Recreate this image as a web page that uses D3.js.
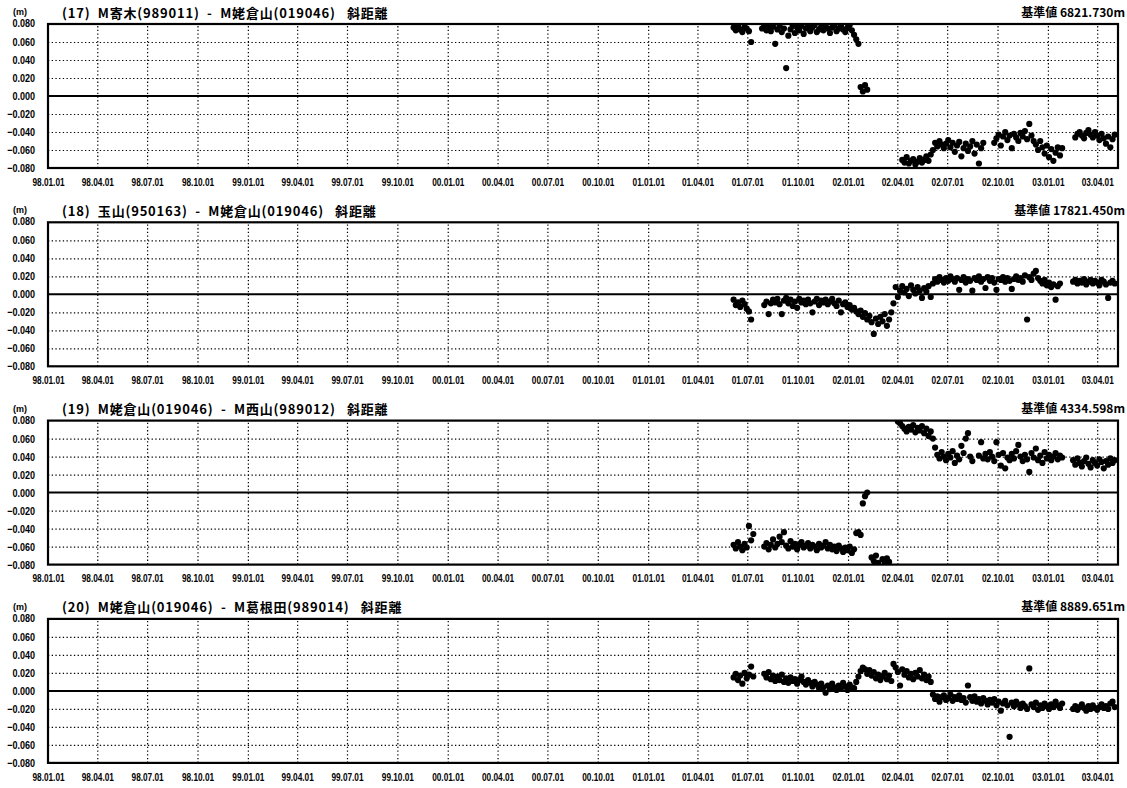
<!DOCTYPE html>
<html>
<head>
<meta charset="utf-8">
<script src="https://cdn.jsdelivr.net/npm/d3@7"></script>
<style>
  body { margin: 0; background: #fff; }
  svg { display: block; }
  .num text { font-family: "Liberation Sans", Arial, sans-serif; font-weight: bold; font-size: 11px; fill: #000; }
  .title { font-family: "Noto Sans CJK JP", sans-serif; font-weight: bold; font-size: 13px; letter-spacing: 0.8px; fill: #000; white-space: pre; }
  .base { font-family: "Noto Sans CJK JP", sans-serif; font-weight: bold; font-size: 12px; fill: #000; }
  .unit { font-family: "Liberation Sans", Arial, sans-serif; font-weight: bold; font-size: 9px; fill: #000; }
</style>
</head>
<body>
<svg id="chart" width="1127" height="788"></svg>
<script>
// ---- axis labels ----
const xTickLabels = ["98.01.01","98.04.01","98.07.01","98.10.01","99.01.01","99.04.01","99.07.01","99.10.01",
  "00.01.01","00.04.01","00.07.01","00.10.01","01.01.01","01.04.01","01.07.01","01.10.01",
  "02.01.01","02.04.01","02.07.01","02.10.01","03.01.01","03.04.01"];
const yTicks = [0.08, 0.06, 0.04, 0.02, 0, -0.02, -0.04, -0.06, -0.08];

// ---- panel headings ----
const panelTitles = [
  "(17)  M寄木(989011)  -  M姥倉山(019046)   斜距離",
  "(18)  玉山(950163)  -  M姥倉山(019046)   斜距離",
  "(19)  M姥倉山(019046)  -  M西山(989012)   斜距離",
  "(20)  M姥倉山(019046)  -  M葛根田(989014)   斜距離"
];
const baseLengths = ["基準値 6821.730m", "基準値 17821.450m", "基準値 4334.598m", "基準値 8889.651m"];

// ---- observations: one value every obsStepDays from obsStart (null = no data) ----
const obsStart = "2001-06-06";
const obsStepDays = 4;

const series17 = [
  0.076,0.073,0.078,0.074,0.071,0.077,0.075,0.072,0.060,null,
  null,null,null,0.075,0.078,0.073,0.076,0.072,0.077,0.058,
  0.074,0.078,0.071,0.075,0.031,0.067,0.074,0.078,0.070,0.076,
  0.073,0.078,0.069,0.075,0.077,0.072,0.076,0.079,0.071,0.074,
  0.077,0.073,0.078,0.075,0.070,0.076,0.079,0.072,0.075,0.078,
  0.074,0.071,0.076,0.079,0.073,0.068,0.063,0.058,0.010,0.005,
  0.012,0.007,null,null,null,null,null,null,null,null,
  null,null,null,null,null,null,null,-0.071,-0.074,-0.068,
  -0.075,-0.072,-0.070,-0.076,-0.073,-0.069,-0.074,-0.071,-0.067,-0.072,
  -0.065,-0.060,-0.052,-0.056,-0.050,-0.054,-0.058,-0.053,-0.049,-0.057,
  -0.052,-0.062,-0.055,-0.051,-0.067,-0.058,-0.053,-0.061,-0.056,-0.050,
  -0.064,-0.054,-0.075,-0.058,-0.052,null,null,null,null,-0.052,
  -0.047,-0.043,-0.055,-0.045,-0.040,-0.049,-0.044,-0.058,-0.042,-0.046,
  -0.050,-0.041,-0.045,-0.039,-0.048,-0.031,-0.044,-0.050,-0.054,-0.060,
  -0.050,-0.057,-0.064,-0.055,-0.068,-0.059,-0.072,-0.063,-0.057,-0.066,
  -0.058,null,null,null,null,null,-0.046,-0.042,-0.040,-0.044,
  -0.047,-0.041,-0.038,-0.043,-0.046,-0.040,-0.044,-0.049,-0.042,-0.047,
  -0.053,-0.045,-0.057,-0.048,-0.043
];

const series18 = [
  -0.006,-0.012,-0.009,-0.014,-0.007,-0.011,-0.016,-0.019,-0.028,null,
  null,null,null,null,-0.012,-0.008,-0.022,-0.010,-0.006,-0.009,
  -0.005,-0.011,-0.022,-0.007,-0.004,-0.010,-0.006,-0.013,-0.008,-0.015,
  -0.005,-0.009,-0.007,-0.011,-0.006,-0.010,-0.020,-0.008,-0.005,-0.012,
  -0.007,-0.009,-0.006,-0.011,-0.008,-0.005,-0.010,-0.013,-0.007,-0.020,
  -0.011,-0.009,-0.014,-0.012,-0.017,-0.015,-0.019,-0.022,-0.018,-0.025,
  -0.021,-0.028,-0.024,-0.031,-0.044,-0.027,-0.033,-0.025,-0.030,-0.022,
  -0.035,-0.028,-0.020,-0.010,0.008,-0.003,0.004,0.009,0.002,0.006,
  -0.002,0.010,0.005,0.001,0.008,0.004,-0.004,0.007,0.003,0.009,
  -0.003,0.012,0.017,0.014,0.019,0.016,0.013,0.018,0.015,0.020,
  0.017,0.014,0.018,0.005,0.016,0.019,0.013,0.017,0.015,0.004,
  0.018,0.016,0.020,0.014,0.017,0.007,0.019,0.015,0.018,0.013,
  0.005,0.017,0.016,0.019,0.014,0.018,0.015,0.006,0.017,0.020,
  0.016,0.018,0.014,0.021,-0.028,0.019,0.016,0.023,0.026,0.018,
  0.015,0.012,0.016,0.010,0.013,0.008,0.011,-0.006,0.009,0.012,
  null,null,null,null,null,0.014,0.016,0.012,0.015,0.013,
  0.017,0.011,0.014,0.016,0.012,0.015,0.013,0.010,0.016,0.014,
  0.011,-0.004,0.013,0.015,0.012
];

const series19 = [
  -0.058,-0.062,-0.055,-0.060,-0.064,-0.057,-0.061,-0.037,-0.053,-0.046,
  null,null,null,null,-0.060,-0.056,-0.063,-0.058,-0.052,-0.061,
  -0.057,-0.049,-0.055,-0.044,-0.059,-0.062,-0.054,-0.060,-0.057,-0.063,
  -0.058,-0.055,-0.061,-0.059,-0.056,-0.062,-0.058,-0.060,-0.064,-0.057,
  -0.061,-0.059,-0.055,-0.062,-0.058,-0.063,-0.060,-0.065,-0.059,-0.062,
  -0.066,-0.061,-0.064,-0.060,-0.067,-0.063,-0.045,-0.044,-0.047,-0.012,
  -0.004,0.000,null,-0.072,-0.076,-0.070,-0.078,null,-0.074,-0.079,
  -0.073,-0.077,null,null,null,0.079,0.077,0.074,0.071,0.068,
  0.073,0.070,0.075,0.067,0.072,0.069,0.074,0.066,0.071,0.063,
  0.068,0.060,0.050,0.042,0.038,0.045,0.040,0.036,0.043,0.039,
  0.046,0.033,0.041,0.037,0.052,0.044,0.060,0.066,0.040,0.035,
  null,null,0.041,0.056,0.038,0.043,0.037,0.045,0.040,0.035,
  0.056,0.042,0.030,0.044,0.027,0.039,0.036,0.043,0.038,0.046,
  0.053,0.040,0.035,0.042,0.037,0.023,0.044,0.039,0.049,0.036,
  0.041,0.033,0.045,0.038,0.042,0.036,0.040,0.044,0.037,0.041,
  0.039,null,null,null,null,0.036,0.031,0.038,0.033,0.029,
  0.035,0.039,0.032,0.028,0.036,0.033,0.030,0.037,0.034,0.027,
  0.035,0.031,0.038,0.033,0.036
];

const series20 = [
  0.015,0.019,0.012,0.017,0.008,0.020,0.014,0.018,0.027,0.016,
  null,null,null,null,0.019,0.015,0.021,0.013,0.017,0.011,
  0.016,0.012,0.018,0.010,0.014,0.009,0.015,0.011,0.013,0.008,
  0.012,0.016,0.010,0.007,0.012,0.009,0.005,0.010,0.007,0.003,
  0.008,0.004,-0.002,0.006,0.002,0.008,0.004,0.001,0.006,0.003,
  0.009,0.005,0.001,0.007,0.004,0.003,0.010,0.016,0.022,0.026,
  0.024,0.019,0.023,0.017,0.021,0.014,0.018,0.012,0.016,0.020,
  0.013,0.017,0.011,0.030,0.026,0.021,0.006,0.024,0.018,0.022,
  0.015,0.019,0.013,0.020,0.016,0.023,0.014,0.018,0.012,0.016,
  0.010,-0.004,-0.009,-0.006,-0.012,-0.007,-0.005,-0.010,-0.008,-0.004,
  -0.011,-0.007,-0.009,-0.005,-0.010,-0.008,-0.013,0.006,-0.007,-0.011,
  -0.006,-0.012,-0.009,-0.014,-0.008,-0.011,-0.015,-0.010,-0.013,-0.009,
  -0.016,-0.012,-0.022,-0.014,-0.011,-0.016,-0.051,-0.013,-0.017,-0.012,
  -0.015,-0.019,-0.014,-0.017,-0.020,0.025,-0.015,-0.018,-0.013,-0.021,
  -0.016,-0.019,-0.014,-0.017,-0.020,-0.015,-0.018,-0.012,-0.016,-0.019,
  -0.014,null,null,null,null,-0.020,-0.017,-0.021,-0.018,-0.015,
  -0.019,-0.022,-0.017,-0.020,-0.016,-0.019,-0.021,-0.018,-0.015,-0.019,
  -0.017,-0.020,-0.014,-0.012,-0.018
];

const panelSeries = [series17, series18, series19, series20];

// ---- layout ----
const plotLeft = 48, plotRight = 1118;
const panelTop0 = 24, panelStep = 198.3, panelH = 144;

const parseTick = d3.timeParse("%y.%m.%d");
const tickDates = xTickLabels.map(parseTick);
const fmtTick = d3.timeFormat("%y.%m.%d");
const t0 = d3.timeParse("%Y-%m-%d")(obsStart);

const x = d3.scaleTime()
  .domain([new Date(1998, 0, 1), new Date(2003, 4, 9)])
  .range([plotLeft, plotRight]);
const y = d3.scaleLinear().domain([-0.08, 0.08]).range([panelH, 0]);
const fmtY = v => d3.format(".3f")(v).replace("-", "\u2212");

// squeeze tick labels horizontally into a narrow bold face
function narrow(sel, k) {
  sel.selectAll("text").each(function () {
    const w = this.getComputedTextLength();
    d3.select(this).attr("textLength", w * k).attr("lengthAdjust", "spacingAndGlyphs");
  });
}

const svg = d3.select("#chart");

svg.append("defs").append("clipPath").attr("id", "plotClip")
  .append("rect").attr("x", plotLeft).attr("y", 0)
  .attr("width", plotRight - plotLeft).attr("height", panelH);

panelSeries.forEach((vals, p) => {
  const top = panelTop0 + p * panelStep;
  const g = svg.append("g").attr("transform", `translate(0,${top})`);

  // dotted grid
  const gx = g.append("g").attr("transform", `translate(0,${panelH})`)
    .call(d3.axisBottom(x).tickValues(tickDates.slice(1)).tickSize(-panelH).tickFormat(""));
  gx.select(".domain").remove();
  gx.selectAll("line").attr("stroke", "#000").attr("stroke-width", 1.2).attr("stroke-dasharray", "1.3,2.4");

  const gy = g.append("g").attr("transform", `translate(${plotLeft},0)`)
    .call(d3.axisLeft(y).tickValues(yTicks.filter(v => v !== 0 && Math.abs(v) < 0.079))
      .tickSize(-(plotRight - plotLeft)).tickFormat(""));
  gy.select(".domain").remove();
  gy.selectAll("line").attr("stroke", "#000").attr("stroke-width", 1.2).attr("stroke-dasharray", "1.3,2.4");

  // zero line
  g.append("line").attr("x1", plotLeft).attr("x2", plotRight)
    .attr("y1", y(0)).attr("y2", y(0)).attr("stroke", "#000").attr("stroke-width", 2);

  // observations
  const pts = vals.map((v, i) => ({ date: d3.timeDay.offset(t0, i * obsStepDays), v }))
    .filter(d => d.v !== null);
  g.append("g").attr("clip-path", "url(#plotClip)")
    .selectAll("circle").data(pts).join("circle")
    .attr("cx", d => x(d.date)).attr("cy", d => y(d.v)).attr("r", 3.1).attr("fill", "#000");

  // frame
  g.append("rect").attr("x", plotLeft).attr("y", 0)
    .attr("width", plotRight - plotLeft).attr("height", panelH)
    .attr("fill", "none").attr("stroke", "#000").attr("stroke-width", 2.2);

  // y labels
  const ly = g.append("g").attr("class", "num").attr("transform", `translate(${plotLeft},0)`)
    .call(d3.axisLeft(y).tickValues(yTicks).tickSize(0).tickPadding(13).tickFormat(fmtY));
  ly.select(".domain").remove();
  ly.selectAll(".tick").filter(d => d === 0.08).select("text").attr("dy", "0.22em");
  narrow(ly, 0.82);

  // x labels
  const lx = g.append("g").attr("class", "num").attr("transform", `translate(0,${panelH})`)
    .call(d3.axisBottom(x).tickValues(tickDates).tickSize(0).tickPadding(10).tickFormat(fmtTick));
  lx.select(".domain").remove();
  narrow(lx, 0.75);

  // unit, title, base length
  g.append("text").attr("class", "unit").attr("x", 20).attr("y", -12)
    .attr("text-anchor", "middle").attr("dominant-baseline", "central").text("(m)");
  g.append("text").attr("class", "title").attr("x", 62).attr("y", -12)
    .attr("dominant-baseline", "central").text(panelTitles[p]);
  g.append("text").attr("class", "base").attr("x", 1125).attr("y", -13)
    .attr("text-anchor", "end").attr("dominant-baseline", "central").text(baseLengths[p]);
});
</script>
</body>
</html>
